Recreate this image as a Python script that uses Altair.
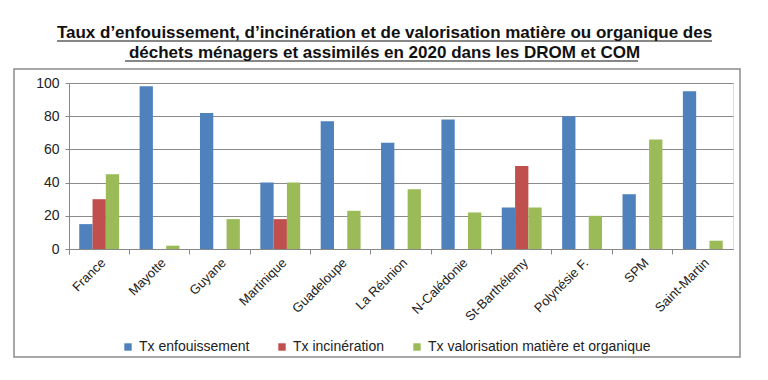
import altair as alt
import pandas as pd

categories = ["France", "Mayotte", "Guyane", "Martinique", "Guadeloupe", "La Réunion",
              "N-Calédonie", "St-Barthélemy", "Polynésie F.", "SPM", "Saint-Martin"]
series = ["Tx enfouissement", "Tx incinération", "Tx valorisation matière et organique"]
enfouissement = [15, 98, 82, 40, 77, 64, 78, 25, 80, 33, 95]
incineration = [30, 0, 0, 18, 0, 0, 0, 50, 0, 0, 0]
valorisation = [45, 2, 18, 40, 23, 36, 22, 25, 20, 66, 5]
colors = ["#4F81BD", "#C0504D", "#9BBB59"]
title_lines = ["Taux d’enfouissement, d’incinération et de valorisation matière ou organique des",
               "déchets ménagers et assimilés en 2020 dans les DROM et COM"]

rows = []
for i, c in enumerate(categories):
    for s, vals in zip(series, [enfouissement, incineration, valorisation]):
        rows.append({"cat": c, "serie": s, "val": vals[i]})
df = pd.DataFrame(rows)

FONT = "Liberation Sans"

bars = alt.Chart(df).mark_bar().encode(
    x=alt.X("cat:N", sort=categories, title=None,
            scale=alt.Scale(paddingInner=0, paddingOuter=0),
            axis=alt.Axis(labelAngle=-45, bandPosition=0, tickExtra=True, tickSize=5,
                          tickColor="#888888", domainColor="#888888", labelFont=FONT,
                          labelFontSize=13, labelColor="#222222", labelPadding=2)),
    xOffset=alt.XOffset("serie:N", sort=series,
                        scale=alt.Scale(paddingOuter=0.77, paddingInner=0)),
    y=alt.Y("val:Q", title=None,
            scale=alt.Scale(domain=[0, 100], nice=False),
            axis=alt.Axis(values=[0, 20, 40, 60, 80, 100], grid=True, gridColor="#8c8c8c",
                          tickColor="#888888", domainColor="#888888", tickSize=4,
                          labelFont=FONT, labelFontSize=14, labelColor="#222222",
                          labelPadding=6)),
    color=alt.Color("serie:N", sort=series, scale=alt.Scale(domain=series, range=colors),
                    legend=alt.Legend(title=None, orient="none", direction="horizontal",
                                      legendX=52, legendY=257, symbolType="square",
                                      symbolSize=55, symbolStrokeWidth=0,
                                      labelFont=FONT, labelFontSize=14, labelColor="#222222",
                                      labelLimit=400, columnPadding=25, symbolOffset=0,
                                      labelOffset=4)),
)

frame = alt.Chart(pd.DataFrame({"a": [0]})).mark_rect(
    fill=None, stroke="#8c8c8c", strokeWidth=1.5
).encode(x=alt.value(-55), x2=alt.value(671), y=alt.value(-14), y2=alt.value(274))

tdf = pd.DataFrame({"t": title_lines, "ty": [-45, -25]})
title = alt.Chart(tdf).mark_text(
    font=FONT, fontSize=17, fontWeight="bold", color="#111111", baseline="alphabetic"
).encode(text="t:N", x=alt.value(315.5), y=alt.Y("ty:Q", scale=None))

udf = pd.DataFrame({"x1": [-12, 56], "x2": [643, 569], "uy": [-42, -22]})
underline = alt.Chart(udf).mark_rule(color="#111111", strokeWidth=1.2).encode(
    x=alt.X("x1:Q", scale=None), x2="x2:Q", y=alt.Y("uy:Q", scale=None))

chart = alt.layer(frame, bars, title, underline).properties(
    width=664, height=166,
    autosize=alt.AutoSizeParams(type="none"),
    padding={"left": 61, "top": 75, "right": 27, "bottom": 123},
).configure_view(stroke=None).configure(background="white")

chart.save("out.html", embed_options={"renderer": "svg", "actions": False})
